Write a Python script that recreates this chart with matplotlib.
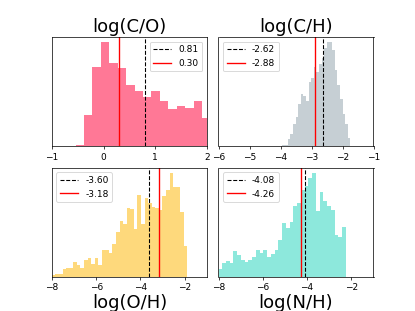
import numpy as np
import matplotlib
matplotlib.use("Agg")
import matplotlib.pyplot as plt

# histogram counts (arbitrary units)
co_start, co_width = -0.54, 0.163
co_counts = [1, 31, 79, 104, 83, 78, 61, 55, 49.3, 55, 45, 36.7, 39.7, 37.7, 45, 28]
co_median, co_best = 0.81, 0.30

ch_start, ch_width = -3.937, 0.0843
ch_counts = [0.7, 0.7, 6.7, 11.7, 21.7, 28.3, 41.7, 51.7, 50, 45, 63.3, 67.3, 78.3,
             73.3, 81.7, 86.7, 96.7, 102.7, 102.7, 95, 75, 60, 46.7, 31.7, 21.7, 8]
ch_median, ch_best = -2.62, -2.88

oh_start, oh_width = -8.0, 0.161
oh_counts = [1.7, 3, 3, 7.3, 8.3, 8.3, 15, 11.7, 9, 16.7, 18.3, 12.3, 19, 11.3,
             26.3, 26.3, 24, 33, 45, 55.7, 52.3, 68.3, 67.7, 47.7, 81, 52.7, 78.3,
             73.3, 69.3, 68.3, 66.7, 80, 86, 103.3, 89.3, 89.3, 64.3, 31]
oh_median, oh_best = -3.60, -3.18

nh_start, nh_width = -8.0, 0.169
nh_counts = [7.3, 13.3, 16, 13.3, 26, 21.7, 16.7, 15, 16.7, 19.3, 26.7, 24, 26.7,
             20, 22.7, 26.7, 36.7, 53.3, 48.3, 55, 70, 73.3, 86.7, 90, 98.3, 103.3,
             65, 84, 75, 70.7, 66.7, 41.7, 39.3, 50]
nh_median, nh_best = -4.08, -4.26

panels = [
    ("log(C/O)", co_start, co_width, co_counts, co_median, co_best, "#ff7896", (-1, 2), [-1, 0, 1, 2], "upper right"),
    ("log(C/H)", ch_start, ch_width, ch_counts, ch_median, ch_best, "#c6cfd4", (-6, -1), [-6, -5, -4, -3, -2, -1], "upper left"),
    ("log(O/H)", oh_start, oh_width, oh_counts, oh_median, oh_best, "#fed97c", (-8, -1), [-8, -6, -4, -2], "upper left"),
    ("log(N/H)", nh_start, nh_width, nh_counts, nh_median, nh_best, "#8de8dc", (-8, -1), [-8, -6, -4, -2], "upper left"),
]

# drawn as a 6.4x4.8 figure shrunk to 415 px wide
fig, axes = plt.subplots(2, 2, figsize=(6.4, 4.8), dpi=415 / 6.4)
fig.subplots_adjust(wspace=0.075, hspace=0.2)

for i, (ax, p) in enumerate(zip(axes.flat, panels)):
    name, start, width, counts, med, best, col, xlim, xt, loc = p
    edges = start + width * np.arange(len(counts) + 1)
    ax.hist(edges[:-1], bins=edges, weights=counts, color=col)
    ax.axvline(med, color="k", ls="--", lw=1.2, label="%.2f" % med)
    ax.axvline(best, color="r", lw=1.5, label="%.2f" % best)
    ax.set_xlim(xlim)
    ax.set_xticks(xt)
    ax.set_yticks([])
    ax.legend(loc=loc)
    if i < 2:
        ax.set_title(name, fontsize=20)
    else:
        ax.set_xlabel(name, fontsize=20, labelpad=2)

fig.savefig("out.png", dpi=415 / 6.4)
